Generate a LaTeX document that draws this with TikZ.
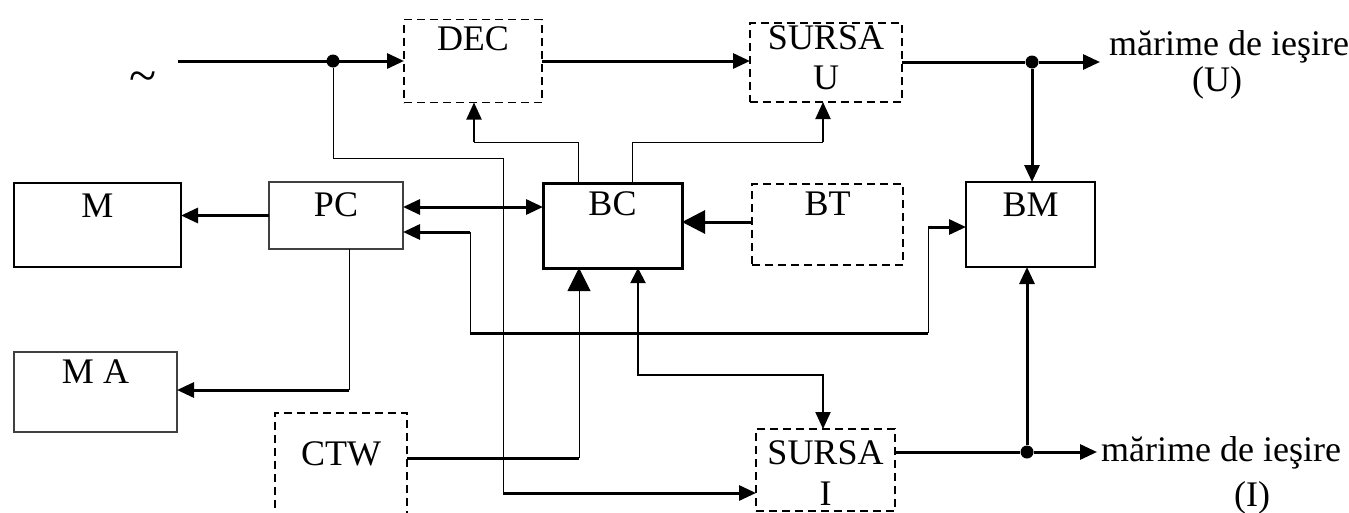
\documentclass[tikz,border=0pt]{standalone}
\usepackage{fontspec}
\setmainfont{Liberation Serif}
\usetikzlibrary{arrows.meta,calc}
\begin{document}
\begin{tikzpicture}[x=1pt,y=-1pt,
  thk/.style={line width=3pt},
  med/.style={line width=2pt},
  thn/.style={line width=1pt},
  arr/.style={-{Triangle[length=17pt,width=15pt]}},
  bigarr/.style={-{Triangle[length=23pt,width=23pt]}},
  dbox/.style={draw, line width=1.8pt, dash pattern=on 8pt off 5pt, inner sep=0pt, outer sep=0pt},
  sbox/.style={draw, line width=2.2pt, inner sep=0pt, outer sep=0pt},
  tbox/.style={draw, line width=3pt, inner sep=0pt, outer sep=0pt},
  lbox/.style={draw, line width=1.1pt, draw=black!75, inner sep=0pt, outer sep=0pt},
  txt/.style={inner sep=0pt, font=\fontsize{36}{40}\selectfont},
  dot/.style={circle, fill, inner sep=0pt, minimum size=13pt}
]
\useasboundingbox (0,0) rectangle (1349,512);

% boxes
\node[dbox, minimum width=138pt, minimum height=83pt] (dec) at (473,61) {};
\node[txt] (decT) at (473,39) {DEC};
\node[dbox, minimum width=152pt, minimum height=79pt] (sursau) at (826,62.5) {};
\node[txt] (suT1) at (826,38) {SURSA};
\node[txt] (suT2) at (826,78) {U};
\node[tbox, minimum width=139pt, minimum height=85pt] (bc) at (612.5,225.5) {};
\node[txt] (bcT) at (612.5,204) {BC};
\node[dbox, minimum width=151pt, minimum height=81pt] (bt) at (827.5,224.5) {};
\node[txt] (btT) at (827.5,204) {BT};
\node[sbox, minimum width=129pt, minimum height=85pt] (bm) at (1030.5,224.5) {};
\node[txt] (bmT) at (1030.5,205) {BM};
\node[sbox, minimum width=167pt, minimum height=84pt] (m) at (97.5,225) {};
\node[txt] (mT) at (97.5,206) {M};
\node[lbox, minimum width=134pt, minimum height=67pt] (pc) at (336,215.5) {};
\node[txt] (pcT) at (336,205) {PC};
\node[lbox, minimum width=163pt, minimum height=80pt] (ma) at (95.5,392) {};
\node[txt] (maT) at (95.5,372) {M A};
\node[dbox, minimum width=132pt, minimum height=117pt] (ctw) at (341,471.5) {};
\node[txt] (ctwT) at (341,454) {CTW};
\node[dbox, minimum width=139pt, minimum height=82pt] (sursai) at (825.5,470) {};
\node[txt] (siT1) at (825.5,453) {SURSA};
\node[txt] (siT2) at (825.5,494) {I};

% texts
\node[txt, font=\fontsize{50}{50}\selectfont] (tilde) at (143,82) {\textasciitilde};
\node[txt, anchor=base west] (outU) at (1109,55) {mărime de ieşire};
\node[txt, anchor=base] (outU2) at (1217,91) {(U)};
\node[txt, anchor=base west] (outI) at (1101,461) {mărime de ieşire};
\node[txt, anchor=base] (outI2) at (1252,506) {(I)};

% dots
\node[dot] (d1) at (333,61) {};
\node[dot] (d2) at (1032,62) {};
\node[dot] (d3) at (1027,452) {};

% coordinates
\coordinate (in) at (178,61);
\coordinate (c2) at (503,158);
\coordinate (c3) at (503,493);
\coordinate (c4) at (578,142);
\coordinate (c5) at (474,142);
\coordinate (c6) at (632,142);
\coordinate (c7) at (823,142);
\coordinate (c8) at (403,207);
\coordinate (c9) at (700,222);
\coordinate (c10) at (470,232);
\coordinate (c11) at (470,333);
\coordinate (c12) at (928,333);
\coordinate (c13) at (928,227);
\coordinate (c14) at (349,390);
\coordinate (c15) at (579,458);
\coordinate (c16) at (638,375);
\coordinate (c17) at (823,375);
\coordinate (oU) at (1100,62);
\coordinate (oI) at (1097,452);

% connectors
\draw[thk,arr] (in) -- (dec.west);
\draw[thn] (d1) |- (c2) -- (c3);
\draw[thk,arr] (c3) -- (sursai.west |- c3);
\draw[thk,arr] (dec.east) -- (dec.east -| sursau.west);
\draw[thk] (sursau.east |- d2) -- (d2);
\draw[thk,arr] (d2) -- (oU);
\draw[thk,arr] (d2) -- (d2 |- bm.north);
\draw[thn] (bc.north -| c4) -- (c4) -- (c5);
\draw[med,arr] (c5) -- (c5 |- dec.south);
\draw[thn] (bc.north -| c6) -- (c6) -- (c7);
\draw[med,arr] (c7) -- (c7 |- sursau.south);
\draw[thk,arr] (pc.west) -- (pc.west -| m.east);
\draw[thk,{Triangle[length=17pt,width=15pt]}-{Triangle[length=17pt,width=15pt]}] (pc.east |- c8) -- (bc.west |- c8);
\draw[thk,bigarr] (bt.west |- c9) -- (bc.east |- c9);
\draw[thk,arr] (c10) -- (pc.east |- c10);
\draw[thn] (c10) -- (c11);
\draw[thk] (c11) -- (c12);
\draw[thn] (c12) -- (c13);
\draw[thk,arr] (c13) -- (bm.west |- c13);
\draw[thn] (pc.south -| c14) -- (c14);
\draw[thk,arr] (c14) -- (ma.east |- c14);
\draw[thk] (ctw.east |- c15) -- (c15);
\draw[thn,bigarr] (c15) -- (bc.south -| c15);
\draw[med,{Triangle[length=15pt,width=15pt]}-{Triangle[length=17pt,width=15pt]}] (bc.south -| c16) -- (c16) -- (c17) -- (c17 |- sursai.north);
\draw[thk] (sursai.east |- d3) -- (d3);
\draw[thk,arr] (d3) -- (oI);
\draw[thk,arr] (d3) -- (d3 |- bm.south);
\end{tikzpicture}
\end{document}
